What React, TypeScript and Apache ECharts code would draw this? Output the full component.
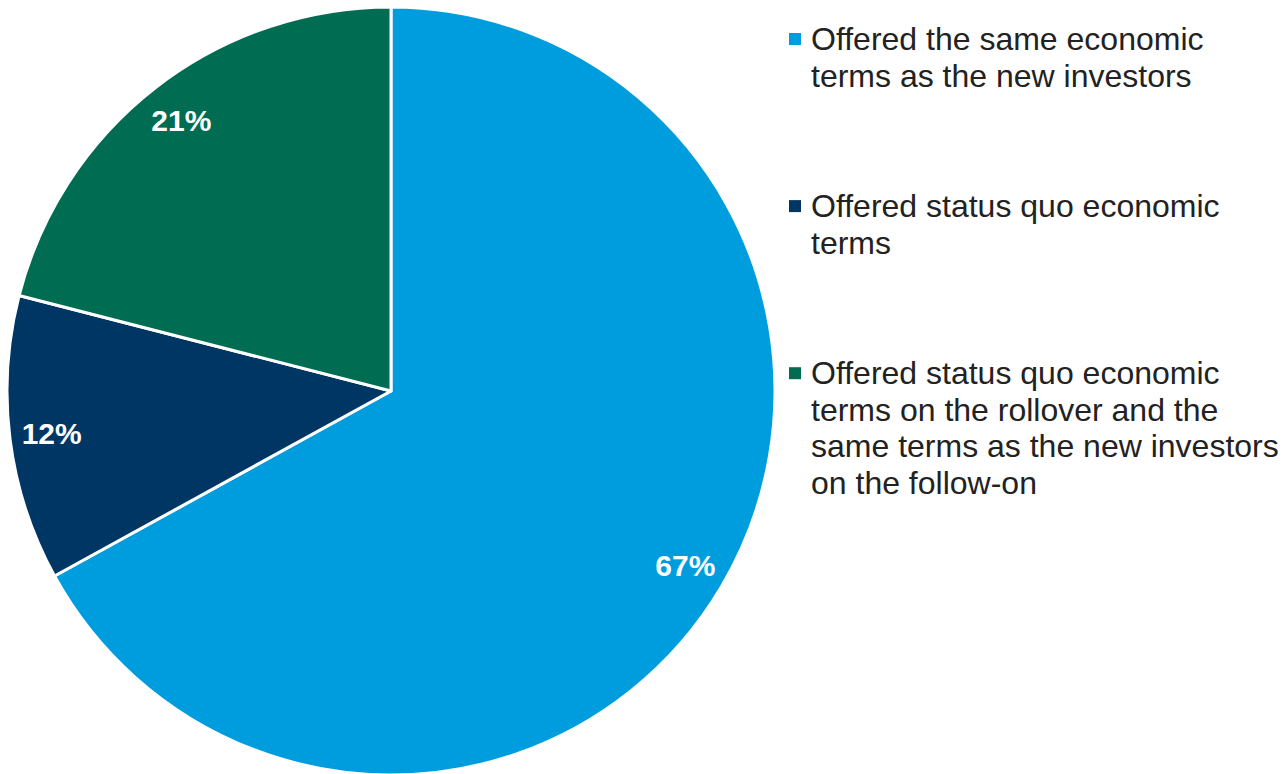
import React, { useEffect, useRef } from "react";
import * as echarts from "echarts";

const categories = [
  "Offered the same economic\nterms as the new investors",
  "Offered status quo economic\nterms",
  "Offered status quo economic\nterms on the rollover and the\nsame terms as the new investors\non the follow-on",
];
const values = [67, 12, 21];
const colors = ["#009DDE", "#003663", "#006C52"];

const FONT = "'Liberation Sans', Arial, sans-serif";

export default function App() {
  const ref = useRef<HTMLDivElement>(null);
  useEffect(() => {
    if (!ref.current) return;
    const chart = echarts.init(ref.current, null, { renderer: "svg" });
    const rich: any = {
      sp: { width: 12, height: 12 },
      t: { fontSize: 32, lineHeight: 36.6, color: "#222222", fontFamily: FONT, padding: [0, 0, 0, 10] },
    };
    colors.forEach((c, i) => {
      rich["m" + i] = { width: 12, height: 12, backgroundColor: c };
    });
    chart.setOption({
      animation: false,
      legend: {
        orient: "vertical",
        left: 783,
        top: 23,
        padding: 0,
        itemGap: 98.5,
        itemWidth: 0,
        itemHeight: 0,
        icon: "rect",
        selectedMode: false,
        data: categories,
        formatter: (name: string) => {
          const idx = categories.indexOf(name);
          return name
            .split("\n")
            .map((l, i) => (i === 0 ? `{m${idx}|}{t|${l}}` : `{sp|}{t|${l}}`))
            .join("\n");
        },
        textStyle: { rich, fontFamily: FONT },
      },
      series: [
        {
          type: "pie",
          center: [391, 391],
          radius: [0, 384],
          startAngle: 90,
          clockwise: true,
          silent: true,
          label: { show: false },
          labelLine: { show: false },
          itemStyle: { borderColor: "#ffffff", borderWidth: 3 },
          data: categories.map((n, i) => ({ name: n, value: values[i], itemStyle: { color: colors[i] } })),
        },
        {
          type: "pie",
          center: [391, 391],
          radius: [297, 381],
          startAngle: 90,
          clockwise: true,
          silent: true,
          labelLine: { show: false },
          label: {
            show: true,
            position: "inside",
            color: "#ffffff",
            fontSize: 30,
            fontWeight: "bold",
            fontFamily: FONT,
            formatter: (p: any) => `${p.value}%`,
          },
          itemStyle: { color: "rgba(0,0,0,0)", borderWidth: 0 },
          data: values.map((v, i) => ({ name: "lbl" + i, value: v })),
        },
      ],
    });
    return () => chart.dispose();
  }, []);
  return <div ref={ref} style={{ width: 1283, height: 774, position: "absolute", left: 0, top: 0 }} />;
}
